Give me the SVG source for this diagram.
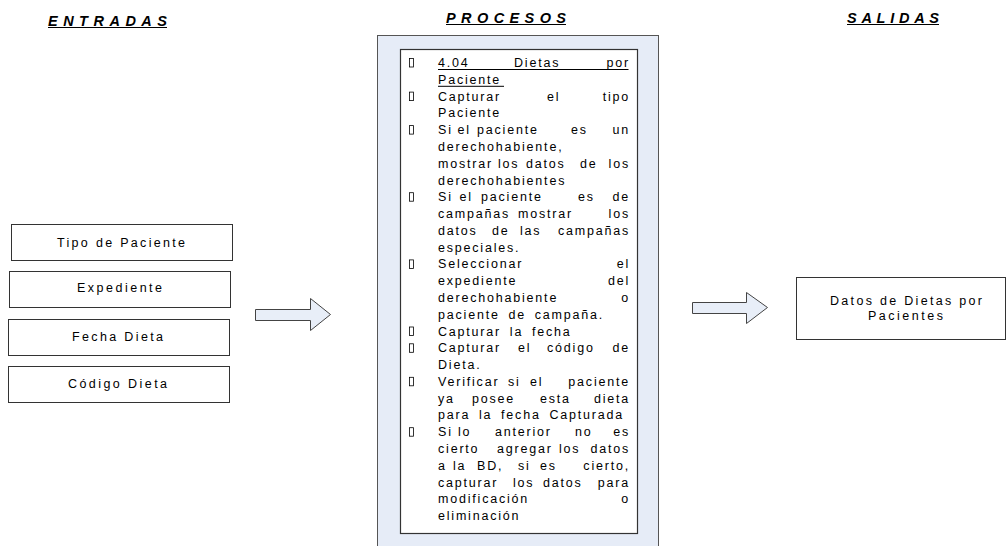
<svg xmlns="http://www.w3.org/2000/svg" width="1007" height="546" viewBox="0 0 1007 546">
  <style>
    .hdr { font: italic bold 14.5px "Liberation Sans", Arial, sans-serif; fill: #000; }
    .lbl { font: 12.5px "Liberation Sans", Arial, sans-serif; fill: #000; text-anchor: middle; }
    .t { font: 12.5px "Liberation Sans", Arial, sans-serif; fill: #000; letter-spacing: 1.8px; word-spacing: 3.5px; }
    .r { text-anchor: end; }
    .box { fill: #fff; stroke: #333; stroke-width: 1; }
    .ul { stroke: #000; stroke-width: 1; }
    .bul { fill: none; stroke: #000; stroke-width: 0.8; }
    .arrow { fill: #e8eef8; stroke: #444; stroke-width: 1; }
  </style>
  <defs>
    <rect id="bullet" class="bul" x="0" y="-8.5" width="4" height="8.5"/>
  </defs>
  <rect width="1007" height="546" fill="#fff"/>

  <!-- column headings -->
  <g id="headings">
    <text class="hdr" x="48" y="25.5" textLength="119" lengthAdjust="spacing">ENTRADAS</text>
    <line class="ul" x1="48" y1="27.5" x2="167" y2="27.5"/>
    <text class="hdr" x="446" y="22.5" textLength="120" lengthAdjust="spacing">PROCESOS</text>
    <line class="ul" x1="446" y1="24.5" x2="566" y2="24.5"/>
    <text class="hdr" x="847" y="22.5" textLength="92" lengthAdjust="spacing">SALIDAS</text>
    <line class="ul" x1="847" y1="24.5" x2="939" y2="24.5"/>
  </g>

  <!-- inputs -->
  <g id="in-tipo">
    <rect class="box" x="11.5" y="224.5" width="221" height="36"/>
    <text class="lbl" x="121" y="247" textLength="128" lengthAdjust="spacing">Tipo de Paciente</text>
  </g>
  <g id="in-expediente">
    <rect class="box" x="9.5" y="271.5" width="221" height="36"/>
    <text class="lbl" x="119.5" y="292" textLength="85" lengthAdjust="spacing">Expediente</text>
  </g>
  <g id="in-fecha">
    <rect class="box" x="8.5" y="319.5" width="221" height="36"/>
    <text class="lbl" x="117.5" y="341" textLength="91" lengthAdjust="spacing">Fecha Dieta</text>
  </g>
  <g id="in-codigo">
    <rect class="box" x="8.5" y="366.5" width="221" height="36"/>
    <text class="lbl" x="117.5" y="388" textLength="99" lengthAdjust="spacing">Código Dieta</text>
  </g>

  <!-- connectors -->
  <g id="connectors">
    <path class="arrow" d="M255.5,309.5 H310.5 V298.5 L330.5,314.5 L310.5,330.5 V320.5 H255.5 Z"/>
    <path class="arrow" d="M692.5,302.5 H746.5 V292.5 L767.5,307.5 L746.5,323.5 V313.5 H692.5 Z"/>
  </g>

  <!-- process -->
  <g id="proceso">
    <rect x="377.5" y="35.5" width="281" height="530" fill="#e6ecf7" stroke="#555" stroke-width="1"/>
    <rect x="400.5" y="49.5" width="237" height="484" fill="#fff" stroke="#333" stroke-width="1.2"/>

    <!-- bullets -->
    <use href="#bullet" x="409.5" y="67"/>
    <use href="#bullet" x="409.5" y="100.6"/>
    <use href="#bullet" x="409.5" y="134.1"/>
    <use href="#bullet" x="409.5" y="201.2"/>
    <use href="#bullet" x="409.5" y="268.4"/>
    <use href="#bullet" x="409.5" y="335.5"/>
    <use href="#bullet" x="409.5" y="352.3"/>
    <use href="#bullet" x="409.5" y="385.8"/>
    <use href="#bullet" x="409.5" y="436.2"/>

    <!-- 4.04 Dietas por Paciente -->
    <text class="t" y="67"><tspan x="438">4.04</tspan><tspan x="514">Dietas</tspan></text>
    <text class="t r" x="630" y="67">por</text>
    <line class="ul" x1="438" y1="69.5" x2="628.5" y2="69.5"/>
    <text class="t" x="438" y="83.8">Paciente</text>
    <line class="ul" x1="438" y1="86.3" x2="504" y2="86.3"/>

    <!-- Capturar el tipo Paciente -->
    <text class="t" y="100.6"><tspan x="438">Capturar</tspan><tspan x="547">el</tspan></text>
    <text class="t r" x="630" y="100.6">tipo</text>
    <text class="t" x="438" y="117.3">Paciente</text>

    <!-- derechohabiente -->
    <text class="t" y="134.1"><tspan x="438">Si</tspan><tspan x="457.5">el</tspan><tspan x="477">paciente</tspan><tspan x="571">es</tspan></text>
    <text class="t r" x="630" y="134.1">un</text>
    <text class="t" x="438" y="150.9">derechohabiente,</text>
    <text class="t" y="167.7"><tspan x="438">mostrar</tspan><tspan x="498">los</tspan><tspan x="526">datos</tspan><tspan x="580">de</tspan></text>
    <text class="t r" x="630" y="167.7">los</text>
    <text class="t" x="438" y="184.5">derechohabientes</text>

    <!-- campañas -->
    <text class="t" y="201.2"><tspan x="438">Si</tspan><tspan x="459.5">el</tspan><tspan x="481">paciente</tspan><tspan x="578">es</tspan></text>
    <text class="t r" x="630" y="201.2">de</text>
    <text class="t" y="218"><tspan x="438">campañas</tspan><tspan x="518">mostrar</tspan></text>
    <text class="t r" x="630" y="218">los</text>
    <text class="t" y="234.8"><tspan x="438">datos</tspan><tspan x="492">de</tspan><tspan x="520">las</tspan></text>
    <text class="t r" x="630" y="234.8">campañas</text>
    <text class="t" x="438" y="251.6">especiales.</text>

    <!-- Seleccionar -->
    <text class="t" x="438" y="268.4">Seleccionar</text>
    <text class="t r" x="630" y="268.4">el</text>
    <text class="t" x="438" y="285.1">expediente</text>
    <text class="t r" x="630" y="285.1">del</text>
    <text class="t" x="438" y="301.9">derechohabiente</text>
    <text class="t r" x="630" y="301.9">o</text>
    <text class="t" x="438" y="318.7">paciente de campaña.</text>

    <!-- fecha / código -->
    <text class="t" x="438" y="335.5">Capturar la fecha</text>
    <text class="t" y="352.3"><tspan x="438">Capturar</tspan><tspan x="518">el</tspan><tspan x="547">código</tspan></text>
    <text class="t r" x="630" y="352.3">de</text>
    <text class="t" x="438" y="369">Dieta.</text>

    <!-- Verificar -->
    <text class="t" y="385.8"><tspan x="438">Verificar</tspan><tspan x="508">si</tspan><tspan x="530">el</tspan></text>
    <text class="t r" x="630" y="385.8">paciente</text>
    <text class="t" y="402.6"><tspan x="438">ya</tspan><tspan x="472">posee</tspan><tspan x="540">esta</tspan></text>
    <text class="t r" x="630" y="402.6">dieta</text>
    <text class="t" x="438" y="419.4">para la fecha Capturada</text>

    <!-- Si lo anterior -->
    <text class="t" y="436.2"><tspan x="438">Si</tspan><tspan x="458">lo</tspan><tspan x="495">anterior</tspan><tspan x="575">no</tspan></text>
    <text class="t r" x="630" y="436.2">es</text>
    <text class="t" y="452.9"><tspan x="438">cierto</tspan><tspan x="497">agregar</tspan><tspan x="559">los</tspan></text>
    <text class="t r" x="630" y="452.9">datos</text>
    <text class="t" y="469.7"><tspan x="438">a</tspan><tspan x="453">la</tspan><tspan x="477">BD,</tspan><tspan x="518">si</tspan><tspan x="540">es</tspan></text>
    <text class="t r" x="630" y="469.7">cierto,</text>
    <text class="t" y="486.5"><tspan x="438">capturar</tspan><tspan x="513">los</tspan><tspan x="543">datos</tspan></text>
    <text class="t r" x="630" y="486.5">para</text>
    <text class="t" x="438" y="503.3">modificación</text>
    <text class="t r" x="630" y="503.3">o</text>
    <text class="t" x="438" y="520">eliminación</text>
  </g>

  <!-- output -->
  <g id="out-datos">
    <rect class="box" x="796.5" y="277.5" width="209" height="62"/>
    <text class="lbl" x="906" y="305" textLength="152" lengthAdjust="spacing">Datos de Dietas por</text>
    <text class="lbl" x="905.5" y="320" textLength="75" lengthAdjust="spacing">Pacientes</text>
  </g>
</svg>
